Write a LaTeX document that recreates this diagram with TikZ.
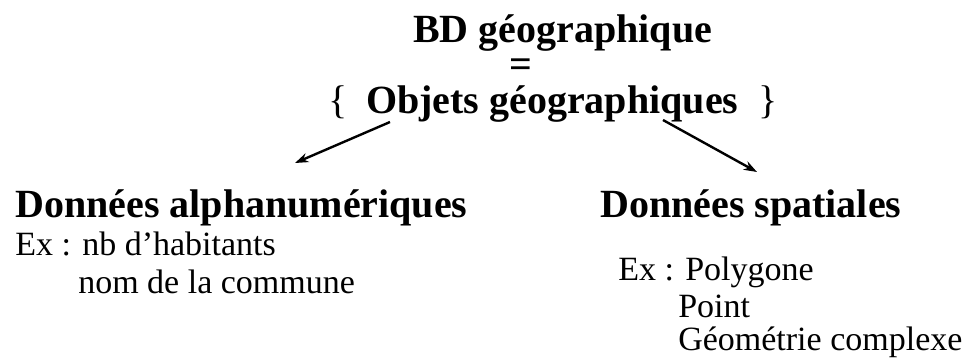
\documentclass[tikz,border=0pt]{standalone}
\usepackage{fontspec}
\setmainfont{Liberation Serif}
\usetikzlibrary{arrows.meta}

\begin{document}
\begin{tikzpicture}[
    x=0.75pt, y=-0.75pt,
    titre/.style={anchor=base west, inner sep=0pt, font=\fontsize{30}{36}\selectfont\bfseries},
    exemple/.style={anchor=base west, inner sep=0pt, font=\fontsize{25.5}{30}\selectfont},
    fleche/.style={-{Stealth[length=10pt,width=7pt]}, line width=1.8pt}
]
\useasboundingbox (0,0) rectangle (977,362);

\node[titre] (bd) at (413, 42) {BD géographique};
\node[titre, anchor=base] (egal) at (521, 77) {=};
\node[titre] (objets) at (328, 113) {{\mdseries\{}\hspace{14pt}Objets géographiques\hspace{15pt}{\mdseries\}}};

\node[titre] (alpha) at (15, 217) {Données alphanumériques};
\node[exemple] (alphaEx) at (15, 255) {Ex : nb d'habitants};
\node[exemple] (alphaNom) at (78, 293) {nom de la commune};

\node[titre] (spatial) at (600, 217) {Données spatiales};
\node[exemple] (spatialEx) at (618, 280) {Ex : Polygone};
\node[exemple] (spatialPoint) at (678, 317) {Point};
\node[exemple] (spatialGeom) at (678, 350) {Géométrie complexe};

\coordinate (departG) at (390, 122);
\coordinate (arriveeG) at (295, 163);
\coordinate (departD) at (663, 120);
\coordinate (arriveeD) at (757, 172);
\draw[fleche] (departG) -- (arriveeG);
\draw[fleche] (departD) -- (arriveeD);
\end{tikzpicture}
\end{document}
